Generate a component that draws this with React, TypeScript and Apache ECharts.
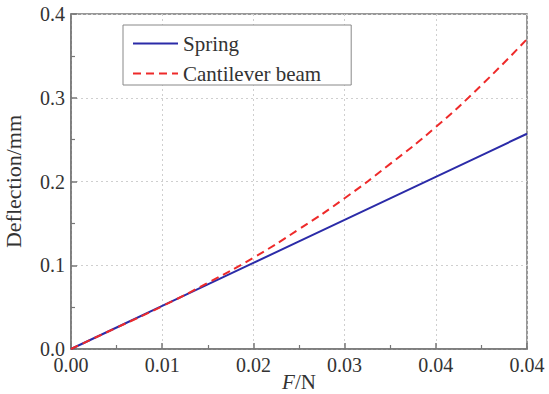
import React, { useEffect, useRef } from "react";
import * as echarts from "echarts";

// Applied force (N), sampled every half tick step
const force = [0, 0.0045, 0.009, 0.0135, 0.018, 0.0225, 0.027, 0.0315, 0.036, 0.0405, 0.045];
// Deflection (mm) of the spring model
const springDeflection = [0, 0.0257, 0.0514, 0.0771, 0.1028, 0.1285, 0.1542, 0.1799, 0.2056, 0.2313, 0.257];
// Deflection (mm) of the cantilever beam model
const beamDeflection = [0, 0.0255, 0.051, 0.079, 0.109, 0.143, 0.18, 0.221, 0.265, 0.315, 0.37];

const xTickLabels = ["0.00", "0.01", "0.02", "0.03", "0.04", "0.04"];
const yTickLabels = ["0.0", "0.1", "0.2", "0.3", "0.4"];
const xStep = 0.009;
const yStep = 0.1;

const seriesNames = ["Spring", "Cantilever beam"];

const FONT = "'Liberation Serif', 'Times New Roman', serif";
const AXIS_COLOR = "#777777";
const TEXT_COLOR = "#333333";

export default function App() {
  const ref = useRef<HTMLDivElement>(null);

  useEffect(() => {
    if (!ref.current) return;
    const chart = echarts.init(ref.current, undefined, { renderer: "svg" });

    const axisCommon = {
      axisLine: { show: true, lineStyle: { color: AXIS_COLOR, width: 1.5 } },
      axisTick: { show: true, inside: true, length: 6, lineStyle: { color: AXIS_COLOR, width: 1.5 } },
      minorTick: { show: true, splitNumber: 2, length: 4, lineStyle: { color: AXIS_COLOR, width: 1.2 } },
      splitLine: { show: true, lineStyle: { color: "#cfcfcf", width: 1, type: [2, 3] } },
      axisLabel: { color: TEXT_COLOR, fontFamily: FONT, fontSize: 20 },
    };

    chart.setOption({
      animation: false,
      backgroundColor: "#ffffff",
      grid: {
        left: 71,
        right: 22,
        top: 14,
        bottom: 45,
        outerBoundsMode: "none",
        containLabel: false,
        show: true,
        borderColor: AXIS_COLOR,
        borderWidth: 1.5,
        backgroundColor: "transparent",
      },
      legend: {
        left: 123,
        top: 25,
        orient: "vertical",
        data: seriesNames,
        itemWidth: 45,
        itemHeight: 14,
        itemGap: 9,
        itemStyle: { opacity: 0 },
        padding: [8, 30, 1, 9],
        borderColor: "#888888",
        borderWidth: 1,
        backgroundColor: "#ffffff",
        textStyle: { fontFamily: FONT, fontSize: 21, color: TEXT_COLOR, lineHeight: 20 },
      },
      xAxis: {
        type: "value",
        min: 0,
        max: 0.045,
        interval: xStep,
        name: "{i|F}/N",
        nameLocation: "middle",
        nameGap: 23,
        nameMoveOverlap: false,
        nameTextStyle: {
          fontFamily: FONT,
          fontSize: 21,
          lineHeight: 20,
          color: TEXT_COLOR,
          rich: { i: { fontFamily: FONT, fontSize: 21, lineHeight: 20, fontStyle: "italic", color: TEXT_COLOR } },
        },
        ...axisCommon,
        axisLabel: {
          ...axisCommon.axisLabel,
          margin: 10,
          lineHeight: 12,
          formatter: (v: number) => xTickLabels[Math.round(v / xStep)] ?? "",
        },
      },
      yAxis: {
        type: "value",
        min: 0,
        max: 0.4,
        interval: yStep,
        name: "Deflection/mm",
        nameLocation: "middle",
        nameGap: 48,
        nameTextStyle: { fontFamily: FONT, fontSize: 22, lineHeight: 20, color: TEXT_COLOR },
        ...axisCommon,
        axisLabel: {
          ...axisCommon.axisLabel,
          margin: 6,
          lineHeight: 14,
          formatter: (v: number) => yTickLabels[Math.round(v / yStep)] ?? "",
        },
      },
      series: [
        {
          name: seriesNames[0],
          type: "line",
          symbol: "none",
          smooth: false,
          data: force.map((f, i) => [f, springDeflection[i]]),
          lineStyle: { color: "#2b2ba8", width: 2 },
          itemStyle: { color: "#2b2ba8" },
          z: 3,
        },
        {
          name: seriesNames[1],
          type: "line",
          symbol: "none",
          smooth: true,
          data: force.map((f, i) => [f, beamDeflection[i]]),
          lineStyle: { color: "#ee2a2a", width: 2, type: [8, 5] },
          itemStyle: { color: "#ee2a2a" },
          z: 4,
        },
      ],
    });

    return () => chart.dispose();
  }, []);

  return <div ref={ref} style={{ width: 549, height: 394, position: "absolute", left: 0, top: 0 }} />;
}
